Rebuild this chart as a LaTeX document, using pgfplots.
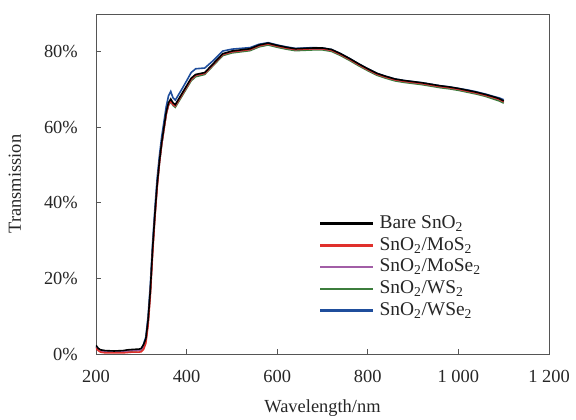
\documentclass[border=0pt]{standalone}
\usepackage{fontspec}
\setmainfont{Liberation Serif}
\usepackage{pgfplots}
\usepackage{pgfplotstable}
\pgfplotsset{compat=1.18}
\definecolor{cblack}{HTML}{000000}
\definecolor{cred}{HTML}{E0302C}
\definecolor{cpurple}{HTML}{A25EA6}
\definecolor{cgreen}{HTML}{3C7D3C}
\definecolor{cblue}{HTML}{1F4E9C}
\definecolor{axgray}{HTML}{555555}
\pgfplotstableread{
wl bare mos2 mose2 ws2 wse2
200 2.3 1.5 1.8 1.9 2.0
205 1.5 0.9 1.2 1.2 1.3
210 1.1 0.5 0.8 0.8 1.0
220 0.9 0.3 0.6 0.6 0.8
240 0.8 0.3 0.5 0.5 0.7
260 0.9 0.3 0.6 0.6 0.8
270 1.1 0.4 0.8 0.7 0.9
280 1.2 0.5 0.9 0.8 1.0
295 1.3 0.5 1.0 0.9 1.1
300 1.5 0.6 1.1 1.0 1.3
305 2.5 1.2 2.0 2.0 2.6
310 4.0 2.8 3.5 3.5 4.5
315 9.0 7.5 8.5 8.5 10.0
320 17 15.5 16.5 16.5 18.5
325 28 26.5 27.5 27.5 29.5
330 37 36 36.5 36.5 38.5
335 45 44 44.5 44.5 46.5
340 51 50.5 50.5 50.5 52.5
345 56 55.5 55.5 55.5 57.5
350 60 59.5 59.5 59.5 61.5
355 64 63.5 63.5 63.5 65.5
360 66.5 66 66 65.8 68.3
365 67.5 67 67 66.8 69.5
370 66.5 66 66 65.8 67.8
375 66 65.7 65.7 65.3 67.2
380 67 66.7 66.7 66.3 68.2
390 69 68.7 68.7 68.3 70.2
400 71 70.7 70.7 70.3 72.3
410 73 72.7 72.7 72.3 74.5
420 74 73.8 73.8 73.4 75.5
440 74.5 74.3 74.3 74 75.7
460 77 76.8 76.8 76.5 77.8
480 79.5 79.3 79.3 79 80.2
500 80.2 80 80 79.7 80.7
520 80.5 80.3 80.3 80 80.9
540 80.8 80.6 80.6 80.3 81.1
560 81.8 81.6 81.6 81.3 82.0
580 82.3 82.1 82.1 81.8 82.4
600 81.7 81.5 81.5 81.2 81.8
620 81.2 81 81 80.7 81.3
640 80.8 80.6 80.6 80.3 80.9
660 80.9 80.7 80.7 80.4 81
680 81 80.8 80.8 80.5 81.1
700 81 80.8 80.8 80.5 81
720 80.6 80.4 80.4 80.1 80.6
740 79.5 79.3 79.3 79 79.5
760 78.2 78 78 77.7 78.2
780 76.8 76.6 76.6 76.3 76.8
800 75.5 75.3 75.3 75 75.5
820 74.3 74.1 74.1 73.8 74.3
840 73.5 73.3 73.3 73 73.5
860 72.8 72.6 72.6 72.3 72.8
880 72.4 72.2 72.2 71.9 72.4
900 72.1 71.9 71.9 71.6 72.1
920 71.8 71.6 71.6 71.3 71.8
940 71.4 71.2 71.2 70.9 71.4
960 71.0 70.8 70.8 70.5 71.0
980 70.7 70.5 70.5 70.2 70.7
1000 70.3 70.1 70.1 69.8 70.3
1020 69.8 69.6 69.6 69.3 69.9
1040 69.3 69.1 69.1 68.8 69.4
1060 68.7 68.5 68.5 68.2 68.8
1080 68.0 67.8 67.8 67.4 68.1
1090 67.6 67.4 67.4 67.0 67.8
1100 67.0 66.8 66.8 66.4 67.3
}\datatable
\begin{document}
\begin{tikzpicture}
\path[use as bounding box] (-96bp,-66bp) rectangle (480bp,354bp);
\begin{axis}[
  at={(0,0)}, anchor=south west,
  scale only axis, width=453bp, height=340bp,
  xmin=200, xmax=1200, ymin=0, ymax=90,
  xtick={200,400,...,1200},
  ytick={0,20,...,80},
  xtick pos=left, ytick pos=left,
  tick align=inside,
  major tick length=5bp,
  axis line style={axgray, line width=0.8pt},
  every tick/.style={axgray, line width=0.8pt},
  font=\fontsize{18.5}{21}\selectfont,
  /pgf/number format/assume math mode=true,
  /pgf/number format/1000 sep={\ },
  yticklabel={\pgfmathprintnumber{\tick}\%},
  xticklabel style={anchor=center, yshift=-22bp, text=black!85},
  yticklabel style={anchor=east, inner sep=0pt, xshift=-18bp, text=black!85},
  xlabel={Wavelength/nm},
  ylabel={Transmission},
  xlabel style={at={(axis description cs:0.5,-0.158)}, anchor=center, text=black!85},
  ylabel style={at={(axis description cs:-0.179,0.5)}, anchor=center, text=black!85},
  legend cell align=left,
  legend image code/.code={\draw[line width=2.6pt, #1] (0bp,0bp) -- (53bp,0bp);},
  legend style={draw=none, fill=none, at={(axis cs:692,37.4)}, anchor=north west,
    inner sep=0pt, row sep=0pt, column sep=4bp,
    font=\fontsize{19.5}{22}\selectfont,
    nodes={inner sep=1bp, text height=14.5bp, text depth=5.2bp, text=black!85}},
]
\addlegendimage{cblack}\addlegendentry{Bare SnO\textsubscript{2}}
\addlegendimage{cred}\addlegendentry{SnO\textsubscript{2}/MoS\textsubscript{2}}
\addlegendimage{cpurple}\addlegendentry{SnO\textsubscript{2}/MoSe\textsubscript{2}}
\addlegendimage{cgreen}\addlegendentry{SnO\textsubscript{2}/WS\textsubscript{2}}
\addlegendimage{cblue}\addlegendentry{SnO\textsubscript{2}/WSe\textsubscript{2}}
\addplot[cblue, line width=1.6pt, forget plot] table[x=wl, y=wse2] {\datatable};
\addplot[cgreen, line width=1.6pt, forget plot] table[x=wl, y=ws2] {\datatable};
\addplot[cpurple, line width=1.6pt, forget plot] table[x=wl, y=mose2] {\datatable};
\addplot[cred, line width=1.6pt, forget plot] table[x=wl, y=mos2] {\datatable};
\addplot[cblack, line width=1.6pt, forget plot] table[x=wl, y=bare] {\datatable};
\end{axis}
\end{tikzpicture}
\end{document}
